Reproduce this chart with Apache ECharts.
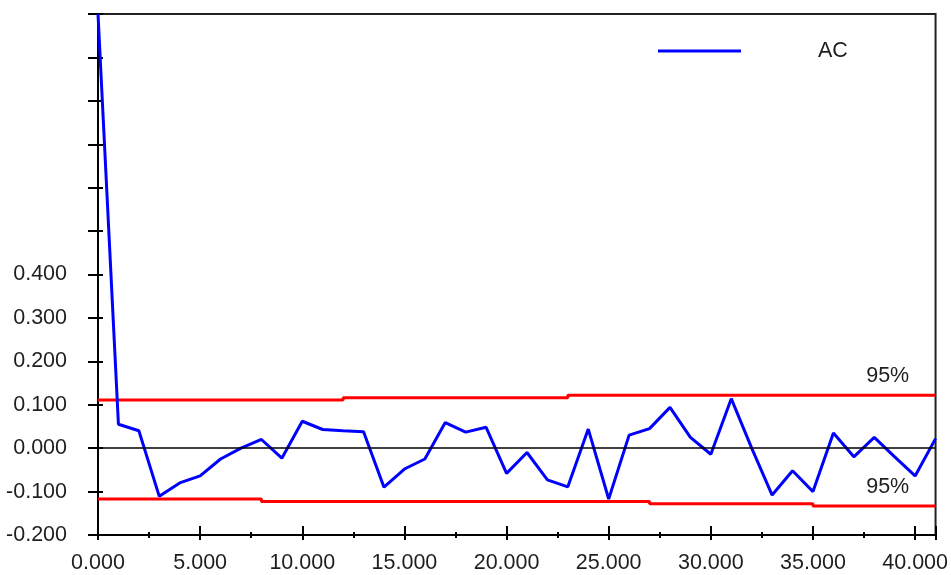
<!DOCTYPE html>
<html>
<head>
<meta charset="utf-8">
<style>
  html, body { margin: 0; padding: 0; background: #ffffff; }
  #chart { width: 951px; height: 575px; }
</style>
<script src="https://cdn.jsdelivr.net/npm/echarts@6/dist/echarts.min.js"></script>
</head>
<body>
<div id="chart"></div>
<script>
// Autocorrelation by lag, with 95% confidence bounds
const lags = [0,1,2,3,4,5,6,7,8,9,10,11,12,13,14,15,16,17,18,19,20,
              21,22,23,24,25,26,27,28,29,30,31,32,33,34,35,36,37,38,39,40,41];
const acValues = [1.000, 0.055, 0.040, -0.111, -0.080, -0.064, -0.025, 0.000, 0.020, -0.023, 0.062,
                  0.043, 0.040, 0.038, -0.090, -0.048, -0.025, 0.059, 0.037, 0.048, -0.058,
                  -0.010, -0.073, -0.089, 0.044, -0.117, 0.030, 0.045, 0.094, 0.025, -0.014,
                  0.114, 0.000, -0.108, -0.052, -0.100, 0.035, -0.020, 0.025, -0.020, -0.064, 0.022];
const upperBand = [0.111, 0.111, 0.111, 0.111, 0.111, 0.111, 0.111, 0.111, 0.111, 0.111, 0.111, 0.111,
                   0.116, 0.116, 0.116, 0.116, 0.116, 0.116, 0.116, 0.116, 0.116, 0.116, 0.116,
                   0.122, 0.122, 0.122, 0.122, 0.122, 0.122, 0.122, 0.122, 0.122, 0.122, 0.122,
                   0.122, 0.122, 0.122, 0.122, 0.122, 0.122, 0.122, 0.122];
const lowerBand = [-0.117, -0.117, -0.117, -0.117, -0.117, -0.117, -0.117, -0.117,
                   -0.123, -0.123, -0.123, -0.123, -0.123, -0.123, -0.123, -0.123, -0.123, -0.123,
                   -0.123, -0.123, -0.123, -0.123, -0.123, -0.123, -0.123, -0.123, -0.123,
                   -0.128, -0.128, -0.128, -0.128, -0.128, -0.128, -0.128, -0.128,
                   -0.133, -0.133, -0.133, -0.133, -0.133, -0.133, -0.133];
const bandLabel = '95%';
const bandLabelLag = 39;
const seriesName = 'AC';
const yLabelTop = 0.4;   // tick labels are printed up to this value

const FONT = '"Liberation Sans", Arial, sans-serif';
const FONT_SIZE = 21.5;
const TEXT = '#1e1e1e';

const pairs = arr => lags.map((l, i) => [l, arr[i]]);

const chart = echarts.init(document.getElementById('chart'), null, { renderer: 'canvas' });

const xBase = { type: 'value', min: 0, max: 41, interval: 5, gridIndex: 0, position: 'bottom' };
const yBase = { type: 'value', min: -0.2, max: 1.0, interval: 0.1, gridIndex: 0, position: 'left' };

// "95%" caption sitting just above a confidence bound
const bandMark = arr => ({
  silent: true,
  symbol: 'circle',
  symbolSize: 0,
  label: {
    show: true,
    position: 'top',
    distance: 8,
    offset: [-7, 0],
    color: TEXT,
    fontFamily: FONT,
    fontSize: FONT_SIZE,
    formatter: bandLabel
  },
  data: [{ coord: [lags[bandLabelLag], arr[bandLabelLag]] }]
});

chart.setOption({
  animation: false,
  backgroundColor: '#ffffff',
  grid: {
    left: 98, top: 14, right: 15, bottom: 40,
    show: true, borderColor: '#222', borderWidth: 2, backgroundColor: 'transparent'
  },
  legend: {
    data: [seriesName],
    left: 653, top: 35,
    icon: 'rect',
    itemWidth: 83, itemHeight: 3,
    textStyle: { fontFamily: FONT, fontSize: FONT_SIZE, color: TEXT, padding: [0, 0, 0, 72] }
  },
  xAxis: [
    Object.assign({}, xBase, {
      axisLine: { show: true, onZero: false, lineStyle: { color: '#000', width: 2 } },
      axisTick: { show: true, inside: false, length: 5, lineStyle: { color: '#000', width: 2 } },
      minorTick: { show: true, splitNumber: 2, length: 3, lineStyle: { color: '#000', width: 2 } },
      axisLabel: {
        show: true, margin: 17, color: TEXT, fontFamily: FONT, fontSize: FONT_SIZE,
        showMaxLabel: false,
        formatter: v => (v % 5 === 0 ? v.toFixed(3) : '')
      },
      splitLine: { show: false }
    }),
    Object.assign({}, xBase, {
      axisLine: { show: false, onZero: false },
      axisTick: { show: true, inside: true, length: 9, lineStyle: { color: '#000', width: 2 } },
      minorTick: { show: true, splitNumber: 2, length: 3, lineStyle: { color: '#000', width: 2 } },
      axisLabel: { show: false },
      splitLine: { show: false }
    })
  ],
  yAxis: [
    Object.assign({}, yBase, {
      axisLine: { show: true, onZero: false, lineStyle: { color: '#000', width: 2 } },
      axisTick: { show: true, inside: false, length: 10, lineStyle: { color: '#000', width: 2 } },
      axisLabel: {
        show: true, margin: 31, color: TEXT, fontFamily: FONT, fontSize: FONT_SIZE,
        formatter: v => (v > yLabelTop + 1e-9 ? '' : v.toFixed(3))
      },
      splitLine: { show: false }
    }),
    Object.assign({}, yBase, {
      axisLine: { show: false, onZero: false },
      axisTick: { show: true, inside: true, length: 5, lineStyle: { color: '#000', width: 2 } },
      axisLabel: { show: false },
      splitLine: { show: false }
    })
  ],
  series: [
    {
      name: 'upper',
      type: 'line',
      step: 'end',
      data: pairs(upperBand),
      symbol: 'none',
      lineStyle: { color: '#ff0000', width: 3 },
      markPoint: bandMark(upperBand),
      z: 2
    },
    {
      name: 'lower',
      type: 'line',
      step: 'end',
      data: pairs(lowerBand),
      symbol: 'none',
      lineStyle: { color: '#ff0000', width: 3 },
      markPoint: bandMark(lowerBand),
      z: 2
    },
    {
      name: seriesName,
      type: 'line',
      data: pairs(acValues),
      symbol: 'none',
      itemStyle: { color: '#0000ff' },
      lineStyle: { color: '#0000ff', width: 3 },
      markLine: {
        silent: true,
        symbol: 'none',
        label: { show: false },
        lineStyle: { color: '#000', width: 1.5, type: 'solid' },
        data: [{ yAxis: 0 }]
      },
      z: 3
    }
  ]
});
</script>
</body>
</html>
